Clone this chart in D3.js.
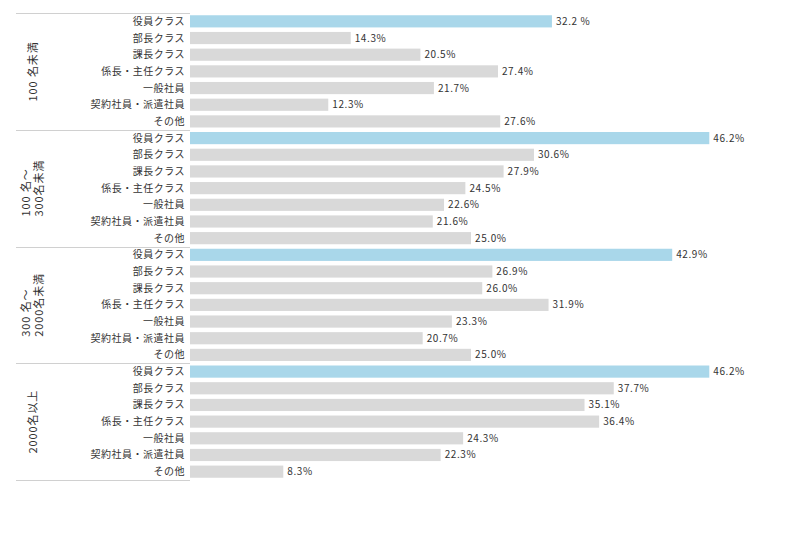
<!DOCTYPE html>
<html>
<head>
<meta charset="utf-8">
<script src="https://cdn.jsdelivr.net/npm/d3@7"></script>
<style>
  body { margin: 0; background: #fff; }
  text { font-family: "Noto Sans CJK JP", "Noto Sans", sans-serif; fill: #333; }
</style>
</head>
<body>
<svg id="chart" width="800" height="560"></svg>
<script>
// groups (company size) and the rows inside each one
var groups = ["100名未満", "100名～300名未満", "300名～2000名未満", "2000名以上"];
var groupLines = [["100 名未満"], ["100 名～", "300名未満"], ["300 名～", "2000名未満"], ["2000名以上"]];
var categories = ["役員クラス", "部長クラス", "課長クラス", "係長・主任クラス", "一般社員", "契約社員・派遣社員", "その他"];

var values_u100 = [32.2, 14.3, 20.5, 27.4, 21.7, 12.3, 27.6];
var values_100_300 = [46.2, 30.6, 27.9, 24.5, 22.6, 21.6, 25.0];
var values_300_2000 = [42.9, 26.9, 26.0, 31.9, 23.3, 20.7, 25.0];
var values_o2000 = [46.2, 37.7, 35.1, 36.4, 24.3, 22.3, 8.3];
var seriesValues = [values_u100, values_100_300, values_300_2000, values_o2000];

var svg = d3.select("#chart");
var left = 190, lineLeft = 16;

var x = d3.scaleLinear().domain([0, 50]).range([left, 752]);
var yGroup = d3.scaleBand().domain(groups).range([13, 480]);
var yRow = d3.scaleBand().domain(categories)
  .range([0, yGroup.bandwidth()])
  .paddingInner(0.27).paddingOuter(0.135);

// divider lines between groups
svg.selectAll("line.divider")
  .data(groups.concat(["end"]))
  .enter()
  .append("line")
    .attr("class", "divider")
    .attr("x1", lineLeft).attr("x2", left)
    .attr("y1", function(d, i) { return Math.round(13 + i * yGroup.bandwidth()) + 0.5; })
    .attr("y2", function(d, i) { return Math.round(13 + i * yGroup.bandwidth()) + 0.5; })
    .attr("stroke", "#d0d0d0")
    .attr("stroke-width", 1);

groups.forEach(function(g, gi) {
  var gy = yGroup(g);
  var rows = categories.map(function(c, ci) { return {cat: c, value: seriesValues[gi][ci], idx: ci}; });
  var grp = svg.append("g").attr("transform", "translate(0," + gy + ")");

  grp.selectAll("rect")
    .data(rows)
    .enter()
    .append("rect")
      .attr("x", x(0))
      .attr("y", function(d) { return yRow(d.cat); })
      .attr("width", function(d) { return x(d.value) - x(0); })
      .attr("height", yRow.bandwidth())
      .attr("fill", function(d) { return d.idx === 0 ? "#a9d7ea" : "#d9d9d9"; });

  grp.selectAll("text.cat")
    .data(rows)
    .enter()
    .append("text")
      .attr("class", "cat")
      .attr("x", left - 5)
      .attr("y", function(d) { return yRow(d.cat) + yRow.bandwidth() / 2; })
      .attr("dy", "0.35em")
      .attr("text-anchor", "end")
      .attr("font-size", 10)
      .attr("letter-spacing", "0.5px")
      .text(function(d) { return d.cat; });

  grp.selectAll("text.val")
    .data(rows)
    .enter()
    .append("text")
      .attr("class", "val")
      .attr("x", function(d) { return x(d.value) + 4; })
      .attr("y", function(d) { return yRow(d.cat) + yRow.bandwidth() / 2; })
      .attr("dy", "0.35em")
      .attr("font-size", 10)
      .attr("letter-spacing", "0.6px")
      .text(function(d) {
        var suffix = (gi === 0 && d.idx === 0) ? " %" : "%";
        return d.value.toFixed(1) + suffix;
      });

  // rotated group label, lines left-aligned and block centred
  var lines = groupLines[gi];
  var cx = 33, cy = yGroup.bandwidth() / 2;
  var lab = grp.append("g");
  var txt = lab.selectAll("text")
    .data(lines)
    .enter()
    .append("text")
      .attr("font-size", 11)
      .attr("letter-spacing", "0.9px")
      .attr("text-anchor", "start")
      .text(function(d) { return d; });
  var widest = d3.max(txt.nodes(), function(n) { return n.getComputedTextLength(); });
  var lh = 13;
  txt.attr("transform", function(d, i) {
      var px = cx + (i - (lines.length - 1) / 2) * lh;
      return "translate(" + px + "," + (cy + widest / 2) + ") rotate(-90)";
    })
    .attr("dy", "0.35em");
});
</script>
</body>
</html>
